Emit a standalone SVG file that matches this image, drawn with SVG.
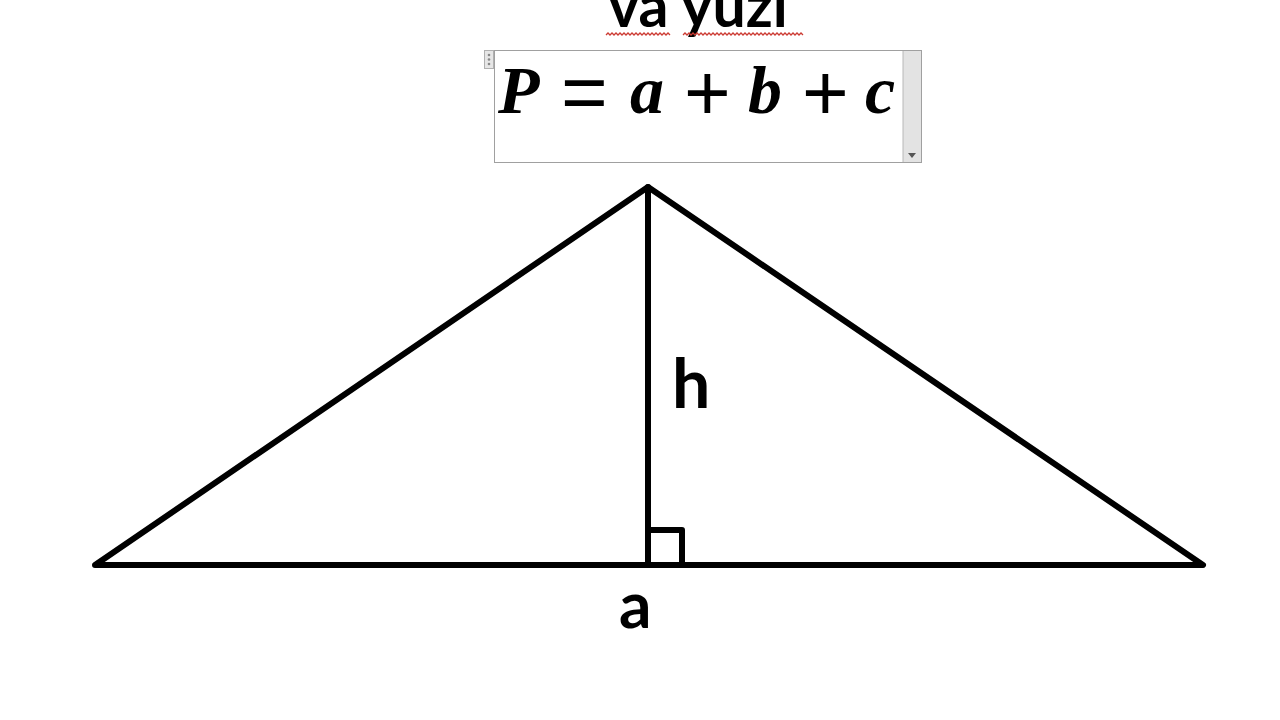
<svg xmlns="http://www.w3.org/2000/svg" width="1280" height="720" viewBox="0 0 1280 720">
<style>
.lbl{font-family:Lato,"Open Sans","Liberation Sans",sans-serif;font-weight:bold;fill:#000}
.m{font-family:"Liberation Serif","DejaVu Serif",serif;font-weight:bold;font-style:italic;font-size:68px;fill:#000}
.op{font-family:"Liberation Sans","DejaVu Sans",sans-serif;font-size:80px;fill:#000}
.edge{stroke:#000;stroke-width:6;stroke-linecap:round;stroke-linejoin:round;fill:none}
.sq{fill:none;stroke:#cc3b33;stroke-width:1.3}
</style>
<rect width="1280" height="720" fill="#fff"/>
<g id="title">
<text class="lbl" x="698" y="27" font-size="59" text-anchor="middle">va yuzi</text>
<path class="sq" d="M606 35 l2 -2 l2 2 l2 -2 l2 2 l2 -2 l2 2 l2 -2 l2 2 l2 -2 l2 2 l2 -2 l2 2 l2 -2 l2 2 l2 -2 l2 2 l2 -2 l2 2 l2 -2 l2 2 l2 -2 l2 2 l2 -2 l2 2 l2 -2 l2 2 l2 -2 l2 2 l2 -2 l2 2 l2 -2 l2 2"/>
<path class="sq" d="M683 35 l2 -2 l2 2 l2 -2 l2 2 l2 -2 l2 2 l2 -2 l2 2 l2 -2 l2 2 l2 -2 l2 2 l2 -2 l2 2 l2 -2 l2 2 l2 -2 l2 2 l2 -2 l2 2 l2 -2 l2 2 l2 -2 l2 2 l2 -2 l2 2 l2 -2 l2 2 l2 -2 l2 2 l2 -2 l2 2 l2 -2 l2 2 l2 -2 l2 2 l2 -2 l2 2 l2 -2 l2 2 l2 -2 l2 2 l2 -2 l2 2 l2 -2 l2 2 l2 -2 l2 2 l2 -2 l2 2 l2 -2 l2 2 l2 -2 l2 2 l2 -2 l2 2 l2 -2 l2 2 l2 -2 l2 2"/>
</g>
<g id="formula">
<rect x="494.5" y="50.5" width="427" height="112" fill="#fff" stroke="#a0a0a0" stroke-width="1"/>
<rect x="903" y="51" width="18" height="111" fill="#e3e3e3"/>
<line x1="903" y1="51" x2="903" y2="162" stroke="#b8b8b8" stroke-width="1"/>
<path d="M908 153 h8 l-4 5 z" fill="#555"/>
<rect x="484.5" y="50.5" width="9" height="18" fill="#e6e6e6" stroke="#b0b0b0" stroke-width="1"/>
<circle cx="489" cy="55" r="1.3" fill="#888"/>
<circle cx="489" cy="59.5" r="1.3" fill="#888"/>
<circle cx="489" cy="64" r="1.3" fill="#888"/>
<text class="m" x="498" y="113">P</text>
<text class="op" x="561" y="119">=</text>
<text class="m" x="630" y="113">a</text>
<text class="op" x="684" y="120">+</text>
<text class="m" x="748" y="113">b</text>
<text class="op" x="802" y="120">+</text>
<text class="m" x="865" y="113">c</text>
</g>
<g id="connectors">
<polygon class="edge" points="95,565 648,187 1203,565"/>
<line class="edge" x1="648" y1="187" x2="648" y2="565" stroke-linecap="butt"/>
<polyline class="edge" points="648,530 682,530 682,565" stroke-linejoin="miter"/>
</g>
<g id="label-h"><text class="lbl" x="672" y="408" font-size="68">h</text></g>
<g id="label-a"><text class="lbl" x="619" y="628" font-size="64">a</text></g>
</svg>
